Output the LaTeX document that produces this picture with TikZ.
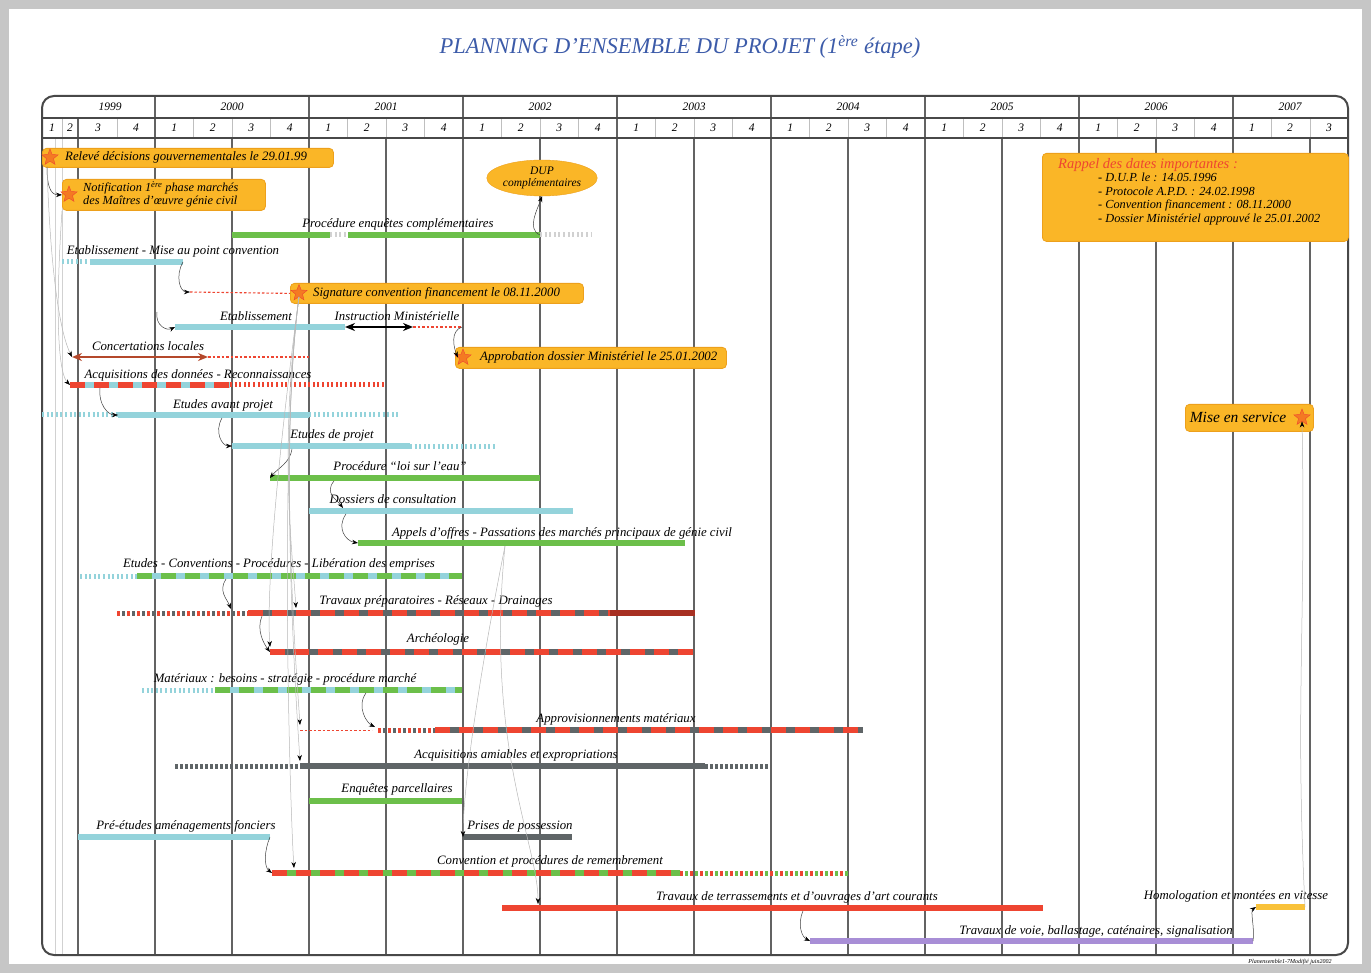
\documentclass[tikz,border=0pt]{standalone}
\usepackage{fontspec}
\setmainfont{Liberation Serif}
\usetikzlibrary{
  arrows.meta,
  calc,
  shapes.geometric
}
\definecolor{planFill}{HTML}{FAB627}
\definecolor{planEdge}{HTML}{EDA01C}
\definecolor{planStar}{HTML}{F47A22}
\definecolor{planGreen}{HTML}{6CBF4A}
\definecolor{planCyan}{HTML}{94D3DB}
\definecolor{planRed}{HTML}{EE4531}
\definecolor{planGray}{HTML}{5F6567}
\definecolor{planPurple}{HTML}{A88ED6}
\definecolor{planBrown}{HTML}{B4482B}
\definecolor{planTitle}{HTML}{3C5BA9}
\definecolor{planFrame}{HTML}{484848}
\definecolor{planPage}{HTML}{C6C6C6}
\definecolor{planYellow}{HTML}{F9C23A}
\newcommand{\taskfont}{\fontsize{12.8}{14}\selectfont\itshape}
\tikzset{
  frameLine/.style={planFrame, line width=2pt},
  semesterLine/.style={planFrame!85, line width=1.3pt},
  quarterLine/.style={black!25, line width=0.6pt},
  headLabel/.style={font=\fontsize{11.5}{12}\selectfont\itshape, inner sep=0pt},
  taskBar/.style={line width=5.5pt},
  taskTicks/.style={line width=5pt, dash pattern=on 2pt off 2.6pt},
  tickA/.style={line width=5pt, dash pattern=on 2.5pt off 7.5pt},
  tickB/.style={line width=5pt, dash pattern=on 2.5pt off 7.5pt, dash phase=5pt},
  stripeOver/.style={line width=5.5pt, dash pattern=on 15pt off 9pt},
  slackLine/.style={planRed, line width=1.1pt, dash pattern=on 2.5pt off 2pt},
  spanArrow/.style={{Stealth[length=10pt,width=8pt]}-{Stealth[length=10pt,width=8pt]},
    line width=2pt},
  taskLabel/.style={font=\taskfont, inner sep=1pt},
  msBox/.style={draw=planEdge, fill=planFill, rounded corners=4pt, line width=0.8pt,
    anchor=north west, inner sep=0pt},
  msText/.style={font=\taskfont, anchor=west, inner sep=0pt, align=left},
  msStar/.style={star, star points=5, star point ratio=2.3, fill=planStar,
    draw=planRed, line width=0.4pt, minimum size=17pt, inner sep=0pt},
  depLink/.style={-{Stealth[length=6pt,width=4.5pt,color=black]}, black!75,
    line width=0.5pt},
  farLink/.style={-{Stealth[length=6pt,width=4.5pt,color=black]}, black!28,
    line width=0.5pt}
}

\begin{document}
\begin{tikzpicture}[x=1pt,y=-1pt]
  \useasboundingbox (0,0) rectangle (1371,973);
  \fill[planPage] (0,0) rectangle (1371,973);
  \fill[white] (9,9) rectangle (1362,964);

  \node[font=\fontsize{22.5}{24}\selectfont\itshape, text=planTitle] (title) at (680,47)
    {PLANNING D'ENSEMBLE DU PROJET (1\textsuperscript{ère} étape)};

  % calendar grid
  \foreach \x in {193.5,232,...,1348} \draw[quarterLine] (\x,119) -- (\x,138);
  \foreach \x in {62,117} \draw[quarterLine] (\x,119) -- (\x,138);
  \foreach \x in {78,155,...,1310} \draw[semesterLine] (\x,138) -- (\x,955);
  \foreach \x in {155,309,...,1233} \draw[semesterLine] (\x,96) -- (\x,138);
  \draw[semesterLine] (78,119) -- (78,138);
  \foreach \x in {55,62} \draw[black!18, line width=1pt] (\x,138) -- (\x,955);
  \draw[frameLine, rounded corners=12pt] (42,96) rectangle (1348,955);
  \draw[planFrame, line width=1.2pt] (42,118) -- (1348,118);
  \draw[frameLine] (42,138) -- (1348,138);

  \foreach \yr/\x in {1999/110,2000/232,2001/386,2002/540,2003/694,2004/848,
      2005/1002,2006/1156,2007/1290}
    \node[headLabel] (yr\yr) at (\x,107) {\yr};
  \foreach \q/\x in {1/52,2/70,3/98,4/136}
    \node[headLabel] (q99-\q) at (\x,128) {\q};
  \foreach \s in {155,309,...,1079}
    \foreach \q in {1,...,4}
      \node[headLabel] (q\s-\q) at (\s+38.5*\q-19.25,128) {\q};
  \foreach \q/\x in {1/1252,2/1290,3/1329}
    \node[headLabel] (q07-\q) at (\x,128) {\q};

  % milestones
  \node[msBox, minimum width=291pt, minimum height=19pt] (rel) at (42,148) {};
  \node[msStar] (relStar) at (50,157.5) {};
  \node[msText] (relTxt) at (65,157.5)
    {Relevé décisions gouvernementales le 29.01.99};

  \node[msBox, minimum width=203pt, minimum height=31pt] (notif) at (62,179) {};
  \node[msStar] (notifStar) at (69,194.5) {};
  \node[msText, font=\fontsize{12.3}{12.8}\selectfont\itshape] (notifTxt) at (83,194.5)
    {Notification 1\textsuperscript{ère} phase marchés\\des Maîtres d'œuvre génie civil};

  \node[ellipse, draw=planEdge, fill=planFill, minimum width=105pt, minimum height=36pt,
    inner sep=0pt, align=center, font=\fontsize{11.5}{12.5}\selectfont\itshape]
    (dup) at (542,178) {DUP\\complémentaires};

  \node[msBox, minimum width=293pt, minimum height=20pt] (sig) at (290,283) {};
  \node[msStar] (sigStar) at (299,293) {};
  \node[msText] (sigTxt) at (313,293)
    {Signature convention financement le 08.11.2000};

  \node[msBox, minimum width=271pt, minimum height=21pt] (appr) at (455,347) {};
  \node[msStar] (apprStar) at (463,357.5) {};
  \node[msText] (apprTxt) at (480,357.5)
    {Approbation dossier Ministériel le 25.01.2002};

  \node[msBox, minimum width=128pt, minimum height=27pt] (mes) at (1185,404) {};
  \node[msStar] (mesStar) at (1302,417.5) {};
  \node[font=\fontsize{15.5}{16}\selectfont\itshape, inner sep=0pt] (mesTxt) at (1238,417.5)
    {Mise en service};

  \node[msBox, minimum width=306pt, minimum height=88pt] (rappel) at (1042,153) {};
  \node[anchor=north west, align=left, inner sep=0pt,
    font=\fontsize{12.3}{13.5}\selectfont\itshape] (rappelTxt) at (1058,158)
    {\textcolor{planRed}{\fontsize{14.5}{16}\selectfont Rappel des dates importantes :}\\
     \hspace*{40pt}- D.U.P. le : 14.05.1996\\
     \hspace*{40pt}- Protocole A.P.D. : 24.02.1998\\
     \hspace*{40pt}- Convention financement : 08.11.2000\\
     \hspace*{40pt}- Dossier Ministériel approuvé le 25.01.2002};

  % tasks
  \draw[taskBar, planGreen] (232,235) coordinate (enqS) -- (540,235) coordinate (enqE);
  \draw[taskBar, white] (330,235) -- (348,235);
  \draw[taskTicks, black!18] (330,235) -- (348,235);
  \draw[taskTicks, black!18] (540,235) -- (592,235);
  \node[taskLabel] (lEnq) at (398,224) {Procédure enquêtes complémentaires};

  \draw[taskTicks, planCyan] (62,262) -- (90,262);
  \draw[taskBar, planCyan] (90,262) coordinate (etabAS) -- (183,262) coordinate (etabAE);
  \node[taskLabel] (lEtabA) at (173,251) {Etablissement - Mise au point convention};
  \draw[slackLine] (190,292) coordinate (sigS) -- (sig.west);

  \draw[taskBar, planCyan] (175,327) coordinate (etabBS) -- (345,327) coordinate (etabBE);
  \draw[spanArrow, black] (etabBE) -- (413,327) coordinate (instrE);
  \draw[slackLine] (instrE) -- (462,327) coordinate (instrSlack);
  \node[taskLabel] (lEtabB) at (256,316) {Etablissement};
  \node[taskLabel] (lInstr) at (397,316) {Instruction Ministérielle};

  \draw[spanArrow, planBrown] (72,357) coordinate (concS) -- (208,357) coordinate (concE);
  \draw[slackLine] (concE) -- (309,357);
  \node[taskLabel] (lConc) at (148,346) {Concertations locales};

  \draw[taskBar, planCyan] (70,385) coordinate (acqS) -- (230,385) coordinate (acqE);
  \draw[stripeOver, planRed] (acqS) -- (acqE);
  \draw[taskTicks, planRed] (acqE) -- (385,385);
  \node[taskLabel] (lAcq) at (198,375) {Acquisitions des données - Reconnaissances};

  \draw[taskTicks, planCyan] (42,415) -- (118,415);
  \draw[taskBar, planCyan] (118,415) coordinate (eapS) -- (309,415) coordinate (eapE);
  \draw[taskTicks, planCyan] (eapE) -- (398,415);
  \node[taskLabel] (lEap) at (223,405) {Etudes avant projet};

  \draw[taskBar, planCyan] (232,446) coordinate (edpS) -- (410,446) coordinate (edpE);
  \draw[taskTicks, planCyan] (edpE) -- (495,446);
  \node[taskLabel] (lEdp) at (332,435) {Etudes de projet};

  \draw[taskBar, planGreen] (270,478) coordinate (loiS) -- (540,478) coordinate (loiE);
  \node[taskLabel] (lLoi) at (400,466) {Procédure ``loi sur l'eau''};

  \draw[taskBar, planCyan] (309,511) coordinate (dosS) -- (573,511) coordinate (dosE);
  \node[taskLabel] (lDos) at (393,499) {Dossiers de consultation};

  \draw[taskBar, planGreen] (358,543) coordinate (appS) -- (685,543) coordinate (appE);
  \node[taskLabel] (lApp) at (562,533)
    {Appels d'offres - Passations des marchés principaux de génie civil};

  \draw[taskTicks, planCyan] (80,576) -- (137,576);
  \draw[taskBar, planCyan] (137,576) coordinate (ecpS) -- (462,576) coordinate (ecpE);
  \draw[stripeOver, planGreen] (ecpS) -- (ecpE);
  \node[taskLabel] (lEcp) at (279,564)
    {Etudes - Conventions - Procédures - Libération des emprises};

  \draw[tickA, planRed] (117,613) -- (248,613);
  \draw[tickB, planGray] (117,613) -- (248,613);
  \draw[taskBar, planGray] (248,613) coordinate (trpS) -- (610,613) coordinate (trpM);
  \draw[stripeOver, planRed] (trpS) -- (trpM);
  \draw[taskBar, planRed!70!black] (trpM) -- (695,613) coordinate (trpE);
  \node[taskLabel] (lTrp) at (436,601) {Travaux préparatoires - Réseaux - Drainages};

  \draw[taskBar, planGray] (270,652) coordinate (arcS) -- (693,652) coordinate (arcE);
  \draw[stripeOver, planRed] (arcS) -- (arcE);
  \node[taskLabel] (lArc) at (438,639) {Archéologie};

  \draw[taskTicks, planCyan] (142,690) -- (215,690);
  \draw[taskBar, planCyan] (215,690) coordinate (matS) -- (462,690) coordinate (matE);
  \draw[stripeOver, planGreen] (matS) -- (matE);
  \node[taskLabel] (lMat) at (285,679)
    {Matériaux : besoins - stratégie - procédure marché};

  \draw[slackLine, line width=0.7pt] (300,730) coordinate (apvSlack) -- (372,730);
  \draw[tickA, planRed] (378,730) coordinate (apvS) -- (435,730);
  \draw[tickB, planGray] (378,730) -- (435,730);
  \draw[taskBar, planGray] (435,730) coordinate (apvM) -- (863,730) coordinate (apvE);
  \draw[stripeOver, planRed] (apvM) -- (apvE);
  \node[taskLabel] (lApv) at (616,719) {Approvisionnements matériaux};

  \draw[tickA, planGray] (175,766) -- (300,766);
  \draw[tickB, planGray] (175,766) -- (300,766);
  \draw[taskBar, planGray] (300,766) coordinate (aaeS) -- (705,766) coordinate (aaeE);
  \draw[tickA, planGray] (aaeE) -- (768,766);
  \draw[tickB, planGray] (aaeE) -- (768,766);
  \node[taskLabel] (lAae) at (516,755) {Acquisitions amiables et expropriations};

  \draw[taskBar, planGreen] (309,801) coordinate (epS) -- (462,801) coordinate (epE);
  \node[taskLabel] (lEp) at (397,789) {Enquêtes parcellaires};

  \draw[taskBar, planCyan] (78,837) coordinate (preS) -- (270,837) coordinate (preE);
  \node[taskLabel] (lPre) at (186,826) {Pré-études aménagements fonciers};

  \draw[taskBar, planGray] (463,837) coordinate (pdpS) -- (572,837) coordinate (pdpE);
  \node[taskLabel] (lPdp) at (520,826) {Prises de possession};

  \draw[taskBar, planGreen] (272,873) coordinate (remS) -- (680,873) coordinate (remE);
  \draw[stripeOver, planRed] (remS) -- (remE);
  \draw[tickA, planRed] (remE) -- (850,873);
  \draw[tickB, planGreen] (remE) -- (850,873);
  \node[taskLabel] (lRem) at (550,861) {Convention et procédures de remembrement};

  \draw[taskBar, planRed] (502,908) coordinate (terS) -- (1043,908) coordinate (terE);
  \node[taskLabel] (lTer) at (797,897)
    {Travaux de terrassements et d'ouvrages d'art courants};

  \draw[taskBar, planPurple] (810,941) coordinate (voieS) -- (1253,941) coordinate (voieE);
  \node[taskLabel] (lVoie) at (1096,931)
    {Travaux de voie, ballastage, caténaires, signalisation};

  \draw[taskBar, planYellow] (1256,907) coordinate (homS) -- (1305,907) coordinate (homE);
  \node[taskLabel] (lHom) at (1236,896) {Homologation et montées en vitesse};

  % links
  \coordinate (relOut) at (47,167);
  \draw[depLink] (relOut) .. controls +(0,18) and +(-12,0) .. (notif.west);
  \draw[farLink] (relOut) .. controls +(4,120) and +(-10,-20) .. (concS);
  \draw[farLink] (notif.south west) .. controls +(-8,120) and +(-10,-10) .. (acqS);
  \draw[depLink] (etabAE) .. controls +(-8,14) and +(-10,0) .. (sigS);
  \coordinate (etabBIn) at (157,312);
  \draw[depLink] (etabBIn) .. controls +(-2,14) and +(-8,4) .. (etabBS);
  \draw[depLink] (instrSlack) .. controls +(-12,4) and +(-4,-10) .. (apprStar.west);
  \draw[depLink] (enqE) .. controls +(-14,-6) and +(-4,12) .. (dup.south);
  \coordinate (acqOut) at (100,388);
  \draw[depLink] (acqOut) .. controls +(-2,16) and +(-10,0) .. (eapS);
  \coordinate (eapOut) at (222,418);
  \draw[depLink] (eapOut) .. controls +(-8,14) and +(-10,0) .. (edpS);
  \coordinate (edpOut) at (292,449);
  \draw[depLink] (edpOut) .. controls +(-2,14) and +(8,-10) .. (loiS);
  \coordinate (loiOut) at (334,481);
  \coordinate (dosIn) at (343,508);
  \draw[depLink] (loiOut) .. controls +(-10,12) and +(-6,-8) .. (dosIn);
  \coordinate (dosOut) at (346,514);
  \draw[depLink] (dosOut) .. controls +(-10,14) and +(-12,-2) .. (appS);
  \coordinate (ecpOut) at (226,579);
  \coordinate (trpIn) at (231,609);
  \draw[depLink] (ecpOut) .. controls +(-8,12) and +(-4,-10) .. (trpIn);
  \coordinate (trpOut) at (262,616);
  \draw[depLink] (trpOut) .. controls +(-6,14) and +(-6,-8) .. (arcS);
  \coordinate (matOut) at (366,693);
  \coordinate (apvIn) at (375,727);
  \draw[depLink] (matOut) .. controls +(-10,14) and +(-8,-4) .. (apvIn);
  \draw[depLink] (preE) .. controls +(-6,14) and +(-8,-6) .. (remS);
  \coordinate (terOut) at (803,911);
  \draw[depLink] (terOut) .. controls +(-6,14) and +(-8,-4) .. (voieS);
  \draw[depLink] (voieE) .. controls +(2,-12) and +(-6,4) .. (homS);
  \draw[farLink] (homE) .. controls +(-10,-200) and +(4,200) .. (mesStar.south);

  \foreach \tgt/\dx in {trpS/48, arcS/0, apvSlack/0, aaeS/0, remS/22}
    \draw[farLink] (sigStar.south) .. controls +(-20,150) and +(-4,-60) .. ($(\tgt)+(\dx,-5)$);
  \coordinate (appOut) at (505,546);
  \draw[farLink] (appOut) .. controls +(-30,150) and +(0,-40) .. (pdpS);
  \draw[farLink] (appOut) .. controls +(-20,200) and +(0,-60) .. ($(terS)+(36,-4)$);

  \node[font=\fontsize{6}{7}\selectfont\itshape, inner sep=0pt] (stamp) at (1290,962)
    {Planensemble1-7Modifié juin2002};
\end{tikzpicture}
\end{document}
